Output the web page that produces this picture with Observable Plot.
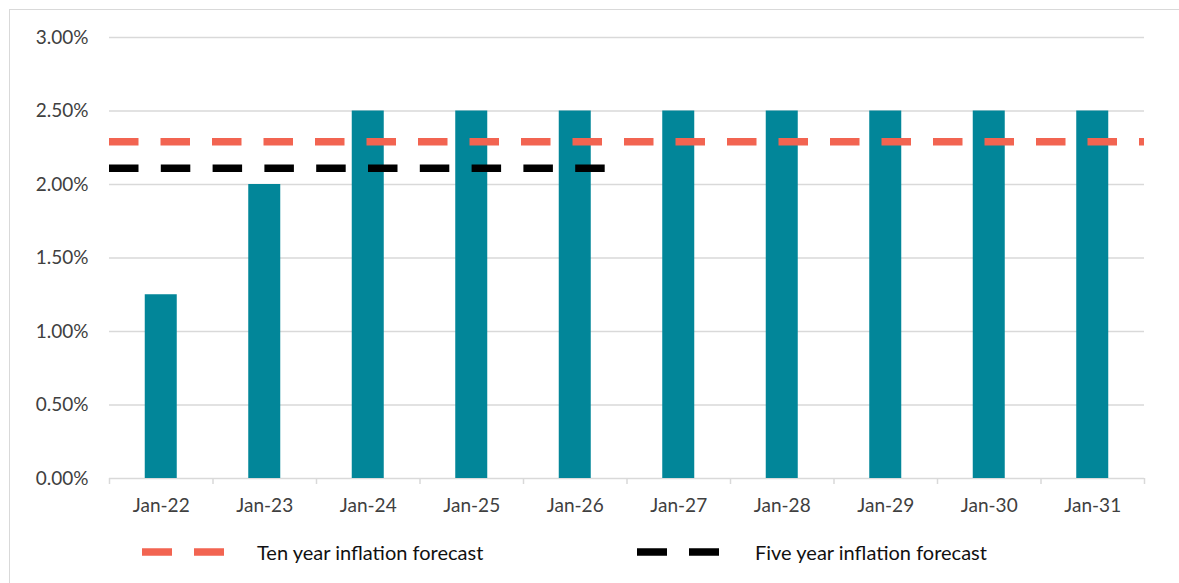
<!DOCTYPE html>
<html><head><meta charset="utf-8">
<script src="https://cdn.jsdelivr.net/npm/d3@7"></script>
<script src="https://cdn.jsdelivr.net/npm/@observablehq/plot@0.6"></script>
<style>
html,body{margin:0;padding:0;background:#fff;width:1179px;height:583px;overflow:hidden;}
#frame{position:absolute;left:9px;top:9px;width:1200px;height:600px;border:1.5px solid #d9d9d9;box-sizing:border-box;}
#chart{position:absolute;left:0;top:0;}
#legend{position:absolute;left:0;top:540px;width:1179px;height:24px;font-family:Lato,sans-serif;font-size:20px;color:#111;}
.item{position:absolute;top:0;height:24px;}
.item svg{position:absolute;left:0;top:0;}
.item span{position:absolute;top:0;line-height:24px;white-space:nowrap;}
</style></head><body>
<div id="frame"></div>
<div id="chart"></div>
<div id="legend"></div>
<script>
// ---- data ----
const dates = ["Jan-22","Jan-23","Jan-24","Jan-25","Jan-26","Jan-27","Jan-28","Jan-29","Jan-30","Jan-31"];
const inflation = [1.25, 2.00, 2.50, 2.50, 2.50, 2.50, 2.50, 2.50, 2.50, 2.50];
const seriesNames = ["Ten year inflation forecast", "Five year inflation forecast"];
const tenYearForecast = [2.29];
const fiveYearForecast = [2.11];
const tenYearSpan = ["Jan-22", "Jan-31"];
const fiveYearSpan = ["Jan-22", "Jan-26"];
const yTicks = [0, 0.5, 1, 1.5, 2, 2.5, 3];

// ---- styles ----
const barColor = "#028699";
const tenColor = "#F26451";
const fiveColor = "#000000";
const gridColor = "#d9d9d9";
const textColor = "#404040";

const W = 1179, H = 520, mL = 109, mR = 35, mT = 37, mB = 42;
const bw = (W - mL - mR) / dates.length;

const bars = dates.map((d, i) => ({date: d, value: inflation[i]}));
const tenRule = tenYearForecast.map(v => ({v, from: tenYearSpan[0], to: tenYearSpan[1]}));
const fiveRule = fiveYearForecast.map(v => ({v, from: fiveYearSpan[0], to: fiveYearSpan[1]}));

const chart = Plot.plot({
  width: W, height: H,
  marginLeft: mL, marginRight: mR, marginTop: mT, marginBottom: mB,
  style: {fontFamily: "Lato, sans-serif", fontSize: "19px", color: textColor, background: "transparent"},
  x: {domain: dates, padding: 0, round: false, label: null},
  y: {domain: [0, 3], label: null},
  marks: [
    Plot.ruleY(yTicks, {stroke: gridColor, strokeWidth: 1.5}),
    Plot.axisY({ticks: yTicks, tickSize: 0, tickPadding: 21, tickFormat: d => d.toFixed(2) + "%", fill: textColor, label: null}),
    Plot.axisX({tickSize: 0, tickPadding: 20, fill: textColor, label: null}),
    Plot.axisX({ticks: dates, tickSize: 6, tickFormat: () => "", dx: -bw / 2, stroke: gridColor, strokeWidth: 1.5, label: null}),
    Plot.axisX({ticks: dates.slice(-1), tickSize: 6, tickFormat: () => "", dx: bw / 2, stroke: gridColor, strokeWidth: 1.5, label: null}),
    Plot.barY(bars, {x: "date", y: "value", fill: barColor, insetLeft: 35.75, insetRight: 35.75}),
    Plot.ruleY(tenRule, {y: "v", x1: "from", x2: "to", stroke: tenColor, strokeWidth: 7.5, strokeDasharray: "29.5,22"}),
    Plot.ruleY(fiveRule, {y: "v", x1: "from", x2: "to", stroke: fiveColor, strokeWidth: 7.5, strokeDasharray: "29.5,22.3"})
  ]
});
document.getElementById("chart").appendChild(chart);

// ---- legend ----
const legendItems = [
  {name: seriesNames[0], color: tenColor, left: 142, textLeft: 115},
  {name: seriesNames[1], color: fiveColor, left: 637, textLeft: 118}
];
const legend = document.getElementById("legend");
for (const it of legendItems) {
  const div = document.createElement("div");
  div.className = "item";
  div.style.left = it.left + "px";
  div.innerHTML = `<svg width="84" height="24"><line x1="0" x2="82" y1="12" y2="12" stroke="${it.color}" stroke-width="7.5" stroke-dasharray="30,22"/></svg><span style="left:${it.textLeft}px">${it.name}</span>`;
  legend.appendChild(div);
}
</script>
</body></html>
